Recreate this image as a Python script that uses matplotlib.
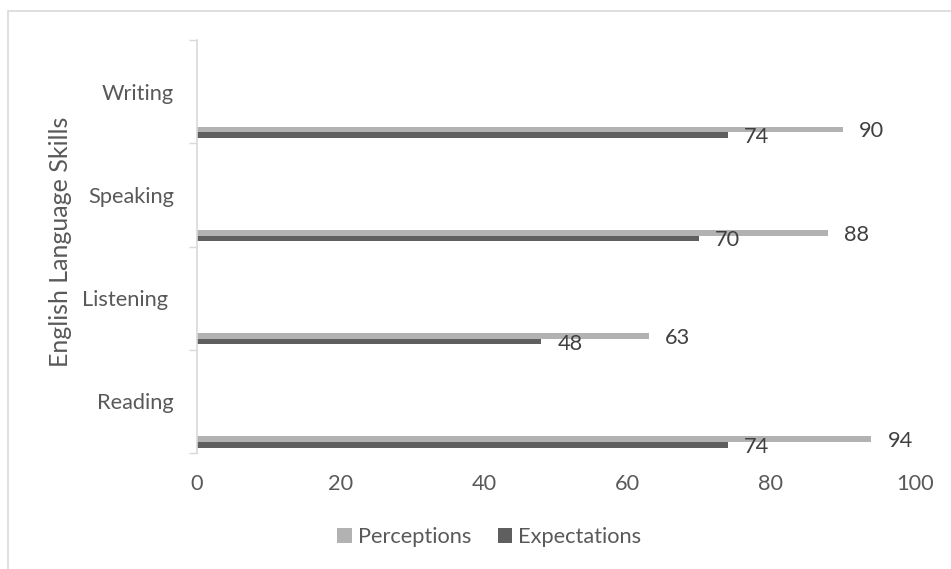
import matplotlib
matplotlib.use("Agg")
import matplotlib.pyplot as plt
from matplotlib.patches import Rectangle

categories = ["Reading", "Listening ", "Speaking", "Writing"]
perceptions = [94, 63, 88, 90]
expectations = [74, 48, 70, 74]
x_ticks = [0, 20, 40, 60, 80, 100]

plt.rcParams['font.family'] = ['Lato', 'DejaVu Sans']
FS = 15.7
TXT = '#595959'
GRID = '#d9d9d9'
C_PER = '#b2b2b2'
C_EXP = '#5f5f5f'

W, H = 951, 569
fig = plt.figure(figsize=(W / 100, H / 100), dpi=100)
left, right, top, bottom = 196.7, 914.5, 40, 453
ax = fig.add_axes([left / W, 1 - bottom / H, (right - left) / W, (bottom - top) / H])

# outer chart border (only left and top visible)
fig.patches.append(Rectangle((8.3 / W, -0.5), 2.0, 1.5 - 10.7 / H, transform=fig.transFigure,
                             fill=False, edgecolor=GRID, linewidth=1.2))

pos = list(range(len(categories)))
bh = 0.055
bp = ax.barh([p - 0.366 for p in pos], perceptions, height=bh, color=C_PER, label='Perceptions')
be = ax.barh([p - 0.421 for p in pos], expectations, height=bh, color=C_EXP, label='Expectations')

for rect, v in zip(bp, perceptions):
    ax.annotate(str(v), (rect.get_width(), rect.get_y() + rect.get_height() / 2),
                xytext=(11.5, -1.5), textcoords='offset points', va='center', ha='left',
                fontsize=FS, color='#404040')
for rect, v in zip(be, expectations):
    ax.annotate(str(v), (rect.get_width(), rect.get_y() + rect.get_height() / 2),
                xytext=(11.5, -1.5), textcoords='offset points', va='center', ha='left',
                fontsize=FS, color='#404040')

ax.set_xlim(0, 100)
ax.set_ylim(-0.5, len(categories) - 0.5)
ax.set_xticks(x_ticks)
ax.set_xticklabels([str(t) for t in x_ticks])
ax.set_yticks(pos)
ax.set_yticklabels(categories)
ax.set_yticks([p - 0.5 for p in range(len(categories) + 1)], minor=True)

ax.tick_params(axis='x', length=0, pad=15, labelsize=FS, labelcolor=TXT)
ax.tick_params(axis='y', which='major', length=0, pad=16.5, labelsize=FS, labelcolor=TXT)
ax.tick_params(axis='y', which='minor', length=5.8, width=1, color=GRID)

for s in ['top', 'right', 'bottom']:
    ax.spines[s].set_visible(False)
ax.spines['left'].set_color(GRID)
ax.spines['left'].set_linewidth(1.2)

fig.text(60 / W, 1 - 242 / H, 'English Language Skills', rotation=90,
         ha='center', va='center', fontsize=18, color=TXT)

fig.legend(handles=[bp, be], labels=['Perceptions', 'Expectations'],
           loc='center', bbox_to_anchor=(489.5 / W, 1 - 537 / H), ncol=2, frameon=False,
           fontsize=FS, labelcolor=TXT, handlelength=0.65, handleheight=0.65,
           handletextpad=0.3, columnspacing=1.2, borderpad=0)

fig.savefig('out.png', dpi=100)
